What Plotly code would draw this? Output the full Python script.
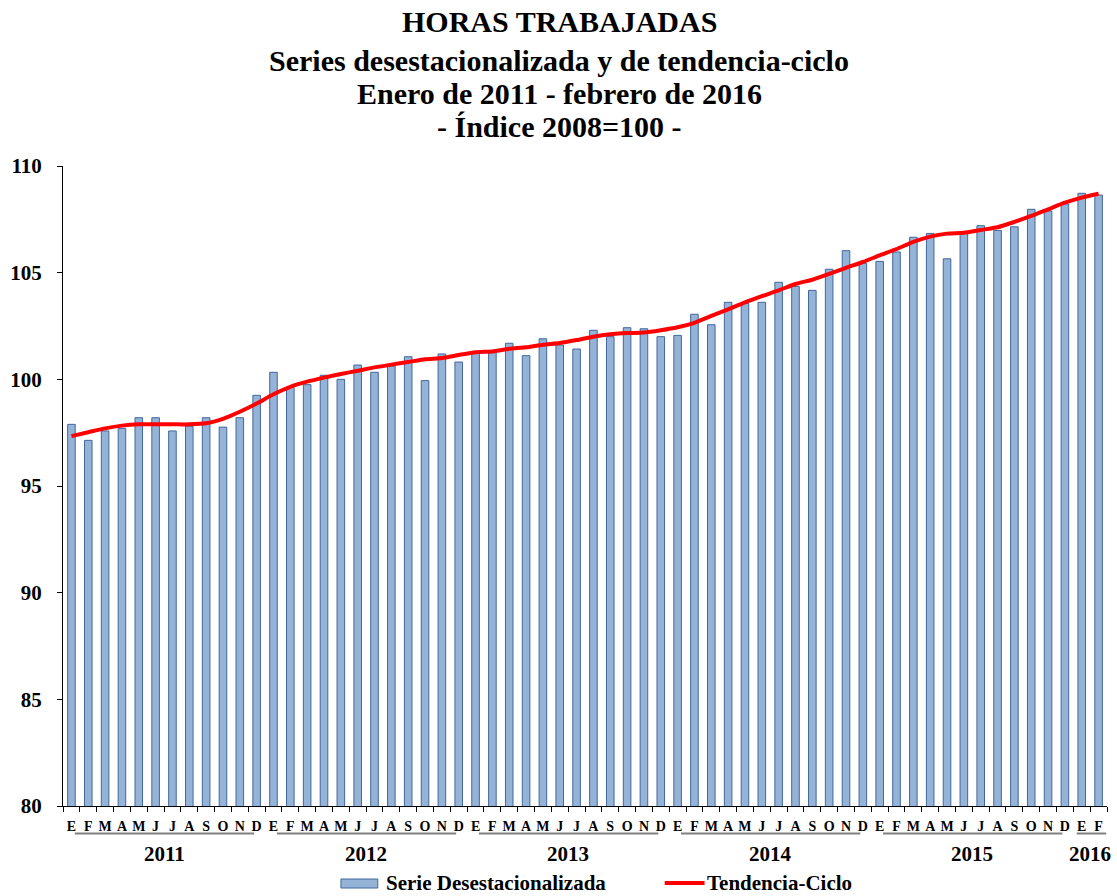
import plotly.graph_objects as go

# ---- data ----
month_letters = ["E", "F", "M", "A", "M", "J", "J", "A", "S", "O", "N", "D"]
years = ["2011", "2012", "2013", "2014", "2015", "2016"]
months_per_year = [12, 12, 12, 12, 12, 2]

serie_desest = [
    97.89, 97.14, 97.58, 97.70, 98.20, 98.20, 97.58, 97.80, 98.20, 97.76, 98.20, 99.25,
    100.33, 99.62, 99.75, 100.19, 100.00, 100.67, 100.33, 100.62, 101.06, 99.94, 101.19, 100.81,
    101.27, 101.25, 101.69, 101.11, 101.90, 101.61, 101.42, 102.30, 102.00, 102.42, 102.37, 102.00,
    102.06, 103.05, 102.56, 103.61, 103.56, 103.61, 104.55, 104.36, 104.17, 105.16, 106.03, 105.44,
    105.53, 105.97, 106.66, 106.84, 105.65, 106.87, 107.20, 106.98, 107.15, 107.97, 107.89, 108.22,
    108.72, 108.64,
]
tendencia = [
    97.34, 97.52, 97.70, 97.83, 97.89, 97.89, 97.89, 97.89, 97.94, 98.15, 98.48, 98.87,
    99.30, 99.65, 99.89, 100.08, 100.25, 100.40, 100.56, 100.69, 100.81, 100.94, 101.00, 101.14,
    101.27, 101.31, 101.43, 101.50, 101.62, 101.70, 101.84, 102.00, 102.11, 102.17, 102.19, 102.30,
    102.44, 102.65, 102.97, 103.28, 103.61, 103.90, 104.17, 104.47, 104.67, 104.94, 105.23, 105.50,
    105.81, 106.11, 106.44, 106.69, 106.83, 106.87, 107.00, 107.13, 107.38, 107.66, 107.97, 108.28,
    108.52, 108.70,
]
title_lines = [
    "HORAS TRABAJADAS",
    "Series desestacionalizada y de tendencia-ciclo",
    "Enero de 2011 - febrero de 2016",
    "- Índice 2008=100 -",
]
legend_names = ["Serie Desestacionalizada", "Tendencia-Ciclo"]
y_ticks = [80, 85, 90, 95, 100, 105, 110]

# ---- derived ----
tick_labels = []
for n in months_per_year:
    tick_labels += month_letters[:n]
n_pts = len(serie_desest)
xi = list(range(n_pts))

FONT = "Liberation Serif"
BAR_FILL = "#95B3D7"
BAR_EDGE = "#41679C"

fig = go.Figure()
fig.add_trace(go.Bar(
    x=xi, y=serie_desest, width=0.45, name=legend_names[0],
    marker=dict(color=BAR_FILL, line=dict(color=BAR_EDGE, width=1)),
    showlegend=False,
))
fig.add_trace(go.Scatter(
    x=xi, y=tendencia, mode="lines", name=legend_names[1],
    line=dict(color="#FF0000", width=4, shape="spline", smoothing=0.6),
    showlegend=False,
))

# paper-coordinate helpers (plot area: x 59..1107, y 166..806)
PX_L, PX_R, PY_T, PY_B = 59, 1107, 166, 806
def px(xpix):
    return (xpix - PX_L) / (PX_R - PX_L)
def py(ypix):
    return (PY_B - ypix) / (PY_B - PY_T)
def xi_paper(i):
    return (i + 0.5) / n_pts

annotations = []
shapes = []

# title lines
title_centers = [22, 60, 94, 127]
for txt, yc in zip(title_lines, title_centers):
    annotations.append(dict(
        text=txt, xref="paper", yref="paper", x=px(557), y=py(yc),
        xanchor="center", yanchor="middle", showarrow=False, borderpad=0,
        font=dict(family=FONT, size=30, color="black", weight="bold"),
    ))

# year labels and group lines
start = 0
for k, (yr, n) in enumerate(zip(years, months_per_year)):
    end = start + n - 1
    mid = (start + end) / 2
    annotations.append(dict(
        text=yr, xref="paper", yref="paper", x=xi_paper(mid), y=py(854),
        xanchor="center", yanchor="middle", showarrow=False, borderpad=0,
        font=dict(family=FONT, size=21, color="black", weight="bold"),
    ))
    if n >= 12:
        a, b = start + 0.2, end - 0.15
    else:
        a, b = start - 0.3, end + 0.45
    shapes.append(dict(
        type="line", xref="paper", yref="paper",
        x0=xi_paper(a), x1=xi_paper(b), y0=py(833.5), y1=py(833.5),
        line=dict(color="#808080", width=2),
    ))
    start = end + 1

# manual legend
LEG_Y = 883
shapes.append(dict(
    type="rect", xref="paper", yref="paper",
    x0=px(338), x1=px(375), y0=py(LEG_Y + 5), y1=py(LEG_Y - 4),
    fillcolor=BAR_FILL, line=dict(color=BAR_EDGE, width=1),
))
annotations.append(dict(
    text=legend_names[0], xref="paper", yref="paper", x=px(382), y=py(LEG_Y),
    xanchor="left", yanchor="middle", showarrow=False, borderpad=0,
    font=dict(family=FONT, size=21, color="black", weight="bold"),
))
shapes.append(dict(
    type="line", xref="paper", yref="paper",
    x0=px(663), x1=px(703), y0=py(LEG_Y), y1=py(LEG_Y),
    line=dict(color="#FF0000", width=4),
))
annotations.append(dict(
    text=legend_names[1], xref="paper", yref="paper", x=px(704), y=py(LEG_Y),
    xanchor="left", yanchor="middle", showarrow=False, borderpad=0,
    font=dict(family=FONT, size=21, color="black", weight="bold"),
))

fig.update_layout(
    width=1117, height=896,
    margin=dict(l=PX_L, r=1117 - PX_R, t=PY_T, b=896 - PY_B, pad=0),
    paper_bgcolor="white", plot_bgcolor="white",
    annotations=annotations, shapes=shapes,
    showlegend=False,
)
fig.update_xaxes(
    range=[-0.5, n_pts - 0.5],
    tickmode="array", tickvals=xi, ticktext=tick_labels,
    ticks="", ticklabelstandoff=7,
    tickfont=dict(family=FONT, size=14, color="black", weight="bold"),
    showline=True, linecolor="black", linewidth=1, showgrid=False, zeroline=False,
    minor=dict(tickmode="linear", tick0=-0.5, dtick=1, ticks="outside",
               ticklen=5, tickcolor="black", tickwidth=1, showgrid=False),
)
fig.update_yaxes(
    range=[80, 110], tickmode="array", tickvals=y_ticks,
    ticks="outside", ticklen=5, tickcolor="black", ticklabelstandoff=11,
    tickfont=dict(family=FONT, size=21, color="black", weight="bold"),
    showline=True, linecolor="black", linewidth=1, showgrid=False, zeroline=False,
)

fig.write_html(
    "out.html",
    config={"displayModeBar": False},
    post_script="document.body.style.margin='0';document.body.style.overflow='hidden';",
)
